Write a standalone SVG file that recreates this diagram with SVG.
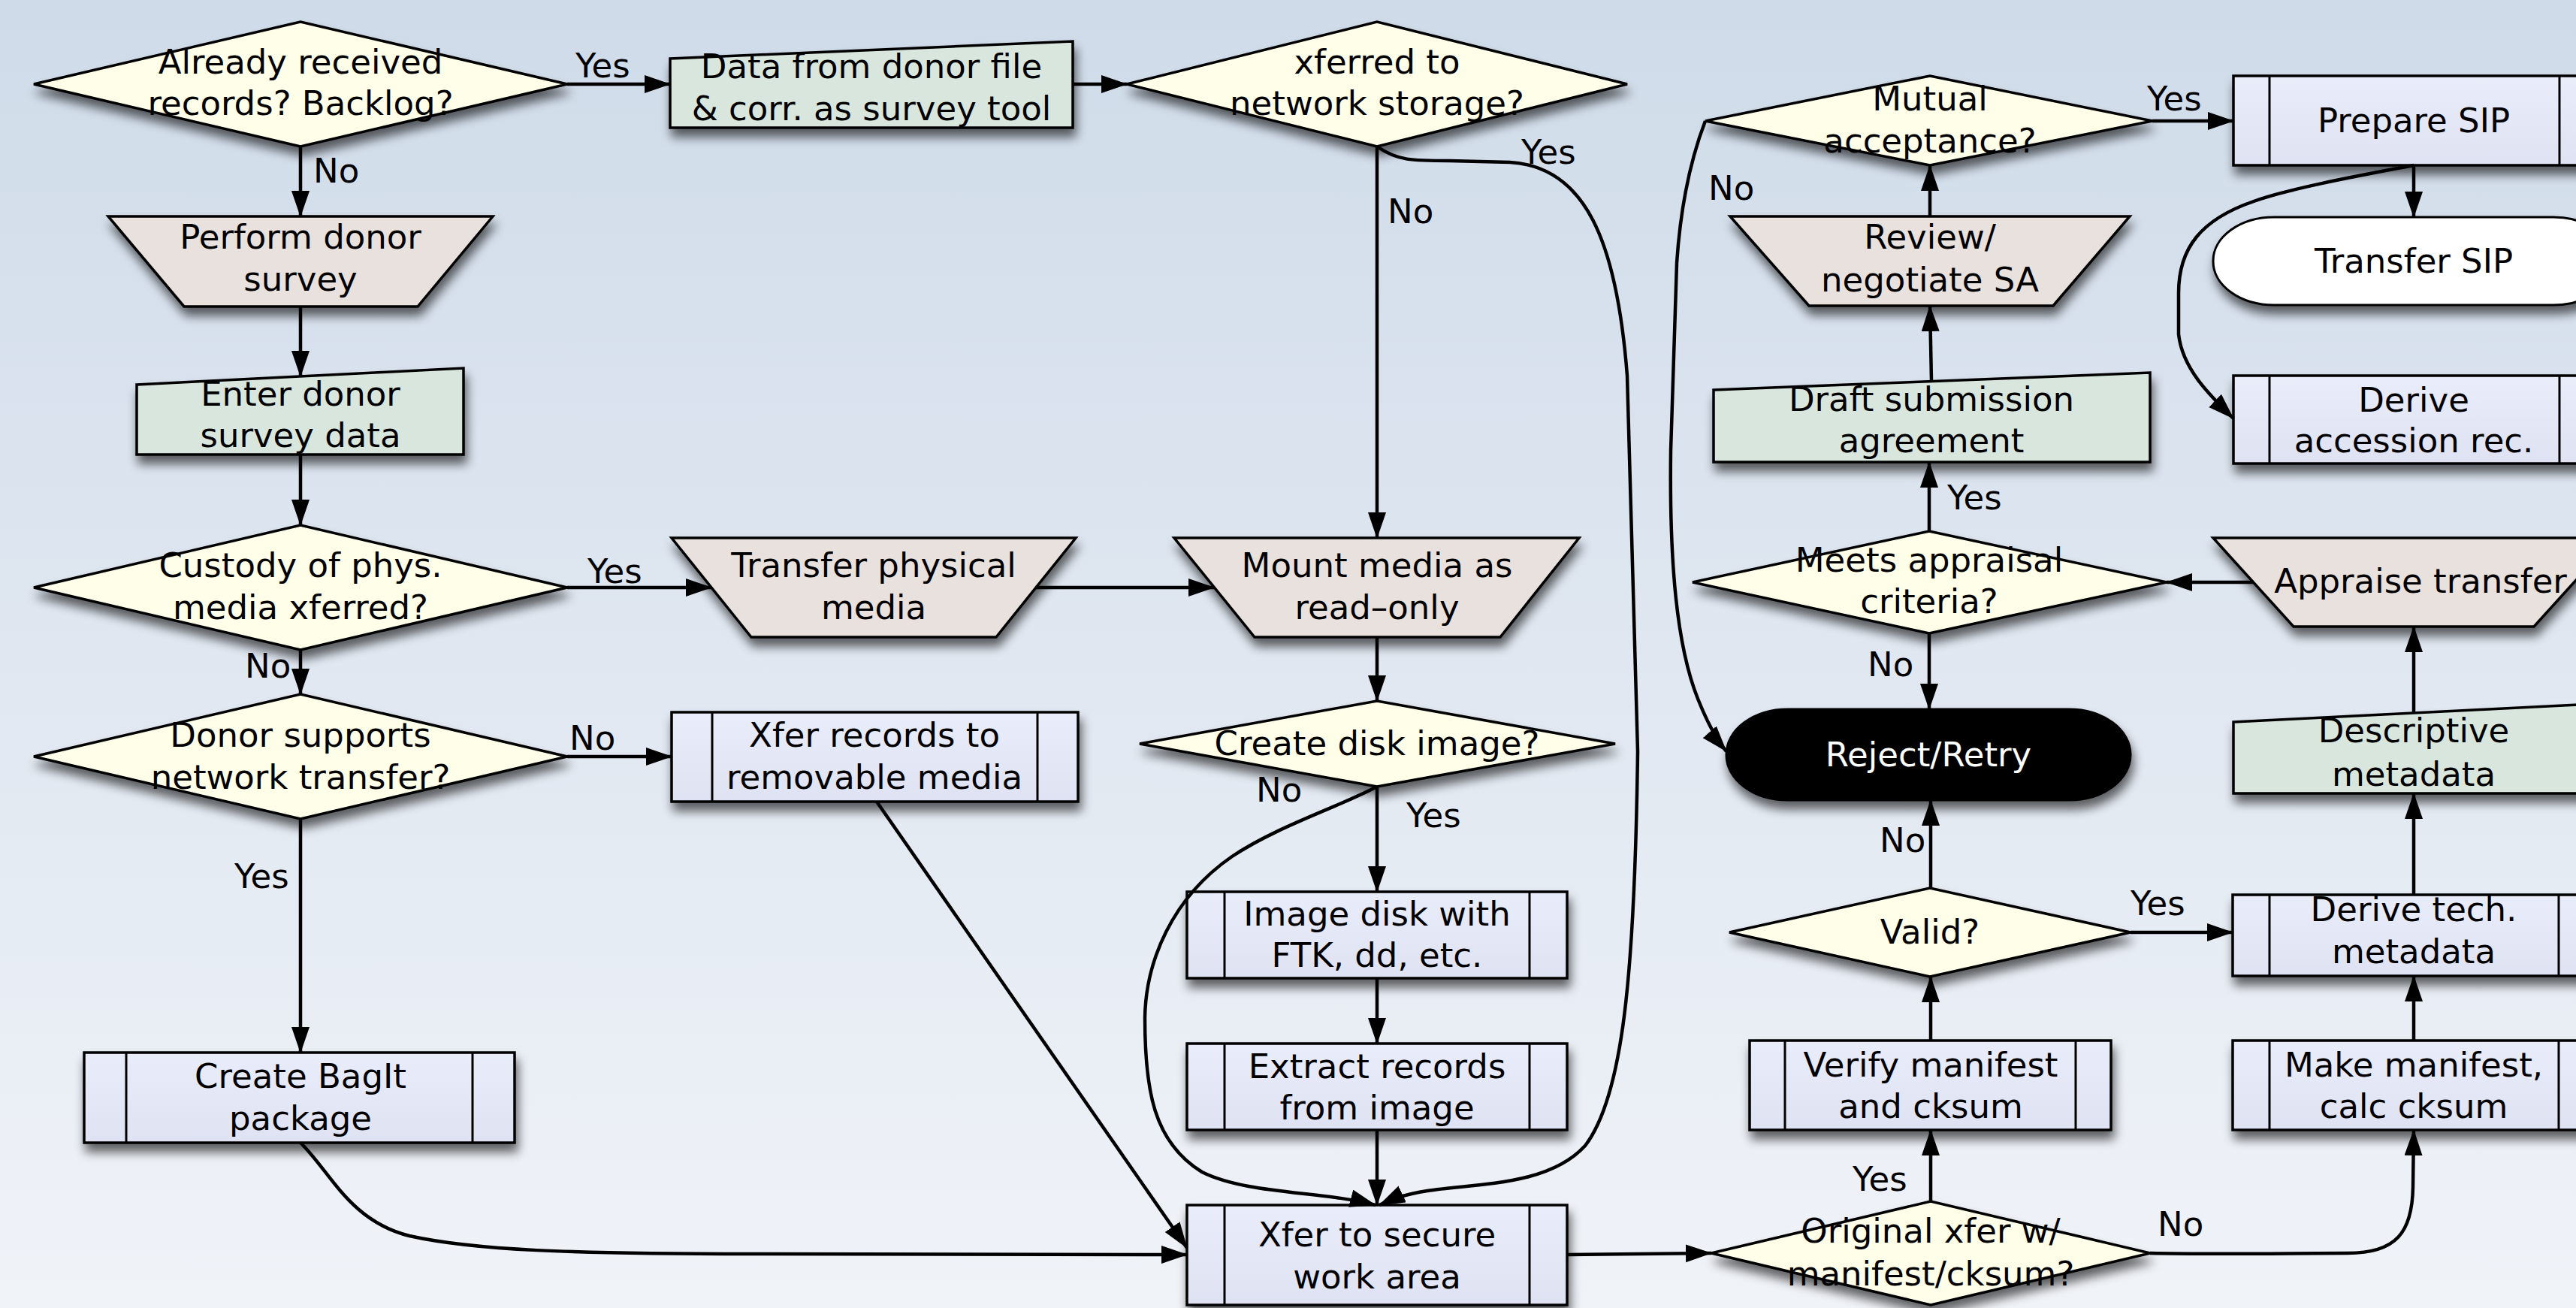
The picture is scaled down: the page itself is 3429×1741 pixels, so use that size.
<svg xmlns="http://www.w3.org/2000/svg" width="3429" height="1741" viewBox="0 0 3429 1741">
<style>
text{font-family:"DejaVu Sans","Liberation Sans",sans-serif;font-size:45px;fill:#000}
.c{text-anchor:middle}
.w{fill:#fff}
.sh{stroke:#000;stroke-width:3.5;stroke-linejoin:miter}
.dia{fill:#fefee9}
.trap{fill:#e8e1dd}
.man{fill:#d9e6de}
.sub{fill:url(#subg)}
.in{stroke:#000;stroke-width:3;fill:none}
.cn{fill:none;stroke:#000;stroke-width:4.5;marker-end:url(#ah)}
</style>
<defs>
<linearGradient id="bg" x1="0" y1="0" x2="0" y2="1">
<stop offset="0" stop-color="#cfdbe9"/>
<stop offset="1" stop-color="#f0f3f8"/>
</linearGradient>
<linearGradient id="subg" x1="0" y1="0" x2="0" y2="1">
<stop offset="0" stop-color="#e9ecf9"/>
<stop offset="1" stop-color="#dfe2f2"/>
</linearGradient>
<filter id="ds" x="-10%" y="-20%" width="125%" height="160%">
<feGaussianBlur in="SourceAlpha" stdDeviation="7"/>
<feOffset dx="3" dy="11"/>
<feComponentTransfer><feFuncA type="linear" slope="0.6"/></feComponentTransfer>
<feMerge><feMergeNode/><feMergeNode in="SourceGraphic"/></feMerge>
</filter>
<marker id="ah" markerWidth="36" markerHeight="26" refX="34" refY="12" orient="auto" markerUnits="userSpaceOnUse">
<path d="M0,0 L35,12 L0,24 Z" fill="#000"/>
</marker>
</defs>
<rect x="0" y="0" width="3429" height="1741" fill="url(#bg)"/>

<!-- Nodes -->
<g id="d-already-received">
<polygon class="sh dia" filter="url(#ds)" points="45,112 400,29 755,112 400,195"/>
<text class="c" x="400" y="98">Already received</text>
<text class="c" x="400" y="153">records? Backlog?</text>
</g>
<g id="m-data-from-donor">
<polygon class="sh man" filter="url(#ds)" points="892,78 1428,55 1428,170 892,170"/>
<text class="c" x="1160" y="104">Data from donor file</text>
<text class="c" x="1160" y="160">&amp; corr. as survey tool</text>
</g>
<g id="d-xferred-network">
<polygon class="sh dia" filter="url(#ds)" points="1500,112 1833,29 2166,112 1833,195"/>
<text class="c" x="1833" y="98">xferred to</text>
<text class="c" x="1833" y="153">network storage?</text>
</g>
<g id="t-perform-donor-survey">
<polygon class="sh trap" filter="url(#ds)" points="144,288 656,288 556,408 245,408"/>
<text class="c" x="400" y="331">Perform donor</text>
<text class="c" x="400" y="387">survey</text>
</g>
<g id="m-enter-donor-survey">
<polygon class="sh man" filter="url(#ds)" points="182,512 617,490 617,605 182,605"/>
<text class="c" x="400" y="540">Enter donor</text>
<text class="c" x="400" y="595">survey data</text>
</g>
<g id="d-custody">
<polygon class="sh dia" filter="url(#ds)" points="45,782 400,699 755,782 400,865"/>
<text class="c" x="400" y="768">Custody of phys.</text>
<text class="c" x="400" y="824">media xferred?</text>
</g>
<g id="t-transfer-physical">
<polygon class="sh trap" filter="url(#ds)" points="894,716 1432,716 1326,848 1000,848"/>
<text class="c" x="1163" y="768">Transfer physical</text>
<text class="c" x="1163" y="824">media</text>
</g>
<g id="t-mount-media">
<polygon class="sh trap" filter="url(#ds)" points="1563,716 2102,716 1997,848 1670,848"/>
<text class="c" x="1833" y="768">Mount media as</text>
<text class="c" x="1833" y="824">read–only</text>
</g>
<g id="d-donor-supports">
<polygon class="sh dia" filter="url(#ds)" points="45,1007 400,924 755,1007 400,1090"/>
<text class="c" x="400" y="994">Donor supports</text>
<text class="c" x="400" y="1050">network transfer?</text>
</g>
<g id="s-xfer-removable">
<rect class="sh sub" filter="url(#ds)" x="894" y="948" width="541" height="119"/>
<line class="in" x1="948" y1="948" x2="948" y2="1067"/>
<line class="in" x1="1381" y1="948" x2="1381" y2="1067"/>
<text class="c" x="1164" y="994">Xfer records to</text>
<text class="c" x="1164" y="1050">removable media</text>
</g>
<g id="d-create-disk-image">
<polygon class="sh dia" filter="url(#ds)" points="1517,990 1833,933 2150,990 1833,1047"/>
<text class="c" x="1833" y="1005">Create disk image?</text>
</g>
<g id="s-image-disk">
<rect class="sh sub" filter="url(#ds)" x="1580" y="1187" width="506" height="115"/>
<line class="in" x1="1630" y1="1187" x2="1630" y2="1302"/>
<line class="in" x1="2036" y1="1187" x2="2036" y2="1302"/>
<text class="c" x="1833" y="1232">Image disk with</text>
<text class="c" x="1833" y="1287">FTK, dd, etc.</text>
</g>
<g id="s-extract-records">
<rect class="sh sub" filter="url(#ds)" x="1580" y="1389" width="506" height="115"/>
<line class="in" x1="1630" y1="1389" x2="1630" y2="1504"/>
<line class="in" x1="2036" y1="1389" x2="2036" y2="1504"/>
<text class="c" x="1833" y="1435">Extract records</text>
<text class="c" x="1833" y="1490">from image</text>
</g>
<g id="s-xfer-secure">
<rect class="sh sub" filter="url(#ds)" x="1580" y="1604" width="506" height="133"/>
<line class="in" x1="1630" y1="1604" x2="1630" y2="1737"/>
<line class="in" x1="2036" y1="1604" x2="2036" y2="1737"/>
<text class="c" x="1833" y="1659">Xfer to secure</text>
<text class="c" x="1833" y="1715">work area</text>
</g>
<g id="s-create-bagit">
<rect class="sh sub" filter="url(#ds)" x="112" y="1401" width="573" height="120"/>
<line class="in" x1="168" y1="1401" x2="168" y2="1521"/>
<line class="in" x1="629" y1="1401" x2="629" y2="1521"/>
<text class="c" x="400" y="1448">Create BagIt</text>
<text class="c" x="400" y="1504">package</text>
</g>
<g id="d-original-xfer">
<polygon class="sh dia" filter="url(#ds)" points="2278,1668 2570,1599 2862,1668 2570,1737"/>
<text class="c" x="2570" y="1654">Original xfer w/</text>
<text class="c" x="2570" y="1711">manifest/cksum?</text>
</g>
<g id="s-verify-manifest">
<rect class="sh sub" filter="url(#ds)" x="2329" y="1385" width="481" height="119"/>
<line class="in" x1="2376" y1="1385" x2="2376" y2="1504"/>
<line class="in" x1="2763" y1="1385" x2="2763" y2="1504"/>
<text class="c" x="2570" y="1433">Verify manifest</text>
<text class="c" x="2570" y="1488">and cksum</text>
</g>
<g id="d-valid">
<polygon class="sh dia" filter="url(#ds)" points="2302,1241 2569,1182 2836,1241 2569,1300"/>
<text class="c" x="2569" y="1256">Valid?</text>
</g>
<g id="r-reject-retry">
<rect filter="url(#ds)" x="2298" y="944" width="538" height="121" rx="82" ry="60" fill="#000" stroke="#000" stroke-width="3"/>
<text class="c w" x="2567" y="1020">Reject/Retry</text>
</g>
<g id="d-meets-appraisal">
<polygon class="sh dia" filter="url(#ds)" points="2253,775 2568,707 2884,775 2568,843"/>
<text class="c" x="2568" y="761">Meets appraisal</text>
<text class="c" x="2568" y="816">criteria?</text>
</g>
<g id="t-appraise-transfer">
<polygon class="sh trap" filter="url(#ds)" points="2946,716 3480,716 3373,834 3053,834"/>
<text class="c" x="3222" y="789">Appraise transfer</text>
</g>
<g id="m-descriptive-metadata">
<polygon class="sh man" filter="url(#ds)" points="2973,961 3454,937 3454,1056 2973,1056"/>
<text class="c" x="3213" y="988">Descriptive</text>
<text class="c" x="3213" y="1046">metadata</text>
</g>
<g id="s-derive-tech">
<rect class="sh sub" filter="url(#ds)" x="2972" y="1191" width="482" height="108"/>
<line class="in" x1="3021" y1="1191" x2="3021" y2="1299"/>
<line class="in" x1="3406" y1="1191" x2="3406" y2="1299"/>
<text class="c" x="3213" y="1226">Derive tech.</text>
<text class="c" x="3213" y="1282">metadata</text>
</g>
<g id="s-make-manifest">
<rect class="sh sub" filter="url(#ds)" x="2972" y="1385" width="482" height="119"/>
<line class="in" x1="3021" y1="1385" x2="3021" y2="1504"/>
<line class="in" x1="3406" y1="1385" x2="3406" y2="1504"/>
<text class="c" x="3213" y="1433">Make manifest,</text>
<text class="c" x="3213" y="1488">calc cksum</text>
</g>
<g id="m-draft-submission">
<polygon class="sh man" filter="url(#ds)" points="2281,519 2862,496 2862,615 2281,615"/>
<text class="c" x="2571" y="547">Draft submission</text>
<text class="c" x="2571" y="602">agreement</text>
</g>
<g id="t-review-negotiate">
<polygon class="sh trap" filter="url(#ds)" points="2303,288 2835,288 2733,407 2408,407"/>
<text class="c" x="2569" y="331">Review/</text>
<text class="c" x="2569" y="388">negotiate SA</text>
</g>
<g id="d-mutual-acceptance">
<polygon class="sh dia" filter="url(#ds)" points="2270,161 2569,101 2865,161 2569,220"/>
<text class="c" x="2569" y="147">Mutual</text>
<text class="c" x="2569" y="203">acceptance?</text>
</g>
<g id="s-prepare-sip">
<rect class="sh sub" filter="url(#ds)" x="2973" y="101" width="481" height="119"/>
<line class="in" x1="3021" y1="101" x2="3021" y2="220"/>
<line class="in" x1="3407" y1="101" x2="3407" y2="220"/>
<text class="c" x="3213" y="176">Prepare SIP</text>
</g>
<g id="r-transfer-sip">
<rect filter="url(#ds)" x="2946" y="289" width="534" height="117" rx="81" ry="58" fill="#fff" stroke="#000" stroke-width="3"/>
<text class="c" x="3213" y="363">Transfer SIP</text>
</g>
<g id="s-derive-accession">
<rect class="sh sub" filter="url(#ds)" x="2973" y="500" width="481" height="117"/>
<line class="in" x1="3021" y1="500" x2="3021" y2="617"/>
<line class="in" x1="3407" y1="500" x2="3407" y2="617"/>
<text class="c" x="3213" y="548">Derive</text>
<text class="c" x="3213" y="602">accession rec.</text>
</g>

<!-- Connectors -->
<g id="connectors">
<path class="cn" d="M755,112 L892,112"/>
<path class="cn" d="M400,195 L400,288"/>
<path class="cn" d="M400,408 L400,501"/>
<path class="cn" d="M400,605 L400,699"/>
<path class="cn" d="M755,782 L947,782"/>
<path class="cn" d="M400,865 L400,924"/>
<path class="cn" d="M755,1007 L894,1007"/>
<path class="cn" d="M400,1090 L400,1401"/>
<path class="cn" d="M1167,1067 L1580,1661"/>
<path class="cn" d="M400,1521 C440,1560 465,1625 545,1645 C630,1664 760,1669 1000,1669 L1580,1670"/>
<path class="cn" d="M1378,782 L1616,782"/>
<path class="cn" d="M1428,112 L1500,112"/>
<path class="cn" d="M1833,195 L1833,716"/>
<path class="cn" d="M1833,195 C1860,214 1880,214 1930,214 L2010,216 C2110,222 2152,320 2166,500 L2180,1000 C2176,1300 2160,1460 2110,1525 C2060,1580 1960,1575 1900,1585 C1870,1590 1855,1595 1836,1604"/>
<path class="cn" d="M1833,848 L1833,933"/>
<path class="cn" d="M1833,1047 L1833,1187"/>
<path class="cn" d="M1833,1047 C1780,1075 1700,1100 1640,1140 C1560,1195 1525,1280 1524,1355 C1524,1450 1535,1520 1600,1560 C1660,1590 1760,1585 1831,1604"/>
<path class="cn" d="M1833,1302 L1833,1389"/>
<path class="cn" d="M1833,1504 L1833,1604"/>
<path class="cn" d="M2086,1670 L2278,1668"/>
<path class="cn" d="M2570,1599 L2570,1504"/>
<path class="cn" d="M2862,1668 C2950,1670 3050,1668 3125,1668 C3190,1668 3211,1640 3212,1580 L3213,1504"/>
<path class="cn" d="M2570,1385 L2570,1300"/>
<path class="cn" d="M2836,1241 L2972,1241"/>
<path class="cn" d="M2570,1182 L2570,1065"/>
<path class="cn" d="M2568,843 L2568,944"/>
<path class="cn" d="M2568,707 L2568,615"/>
<path class="cn" d="M3000,775 L2884,775"/>
<path class="cn" d="M3213,949 L3213,834"/>
<path class="cn" d="M3213,1191 L3213,1056"/>
<path class="cn" d="M3213,1385 L3213,1299"/>
<path class="cn" d="M2571,507 L2569,407"/>
<path class="cn" d="M2569,288 L2569,220"/>
<path class="cn" d="M2865,161 L2973,161"/>
<path class="cn" d="M2270,161 C2255,200 2238,260 2232,350 L2224,600 C2222,750 2232,860 2260,930 C2272,960 2285,985 2298,1000"/>
<path class="cn" d="M3213,220 L3213,289"/>
<path class="cn" d="M3213,220 C3150,232 3050,250 3000,268 C2930,292 2900,330 2900,390 L2900,445 C2905,490 2940,525 2973,557"/>
</g>

<g id="labels">
<text x="766" y="103">Yes</text>
<text x="417" y="243">No</text>
<text x="782" y="776">Yes</text>
<text x="326" y="902">No</text>
<text x="758" y="998">No</text>
<text x="312" y="1182">Yes</text>
<text x="1847" y="297">No</text>
<text x="2025" y="218">Yes</text>
<text x="1672" y="1067">No</text>
<text x="1872" y="1101">Yes</text>
<text x="2466" y="1585">Yes</text>
<text x="2872" y="1645">No</text>
<text x="2836" y="1218">Yes</text>
<text x="2502" y="1134">No</text>
<text x="2486" y="900">No</text>
<text x="2592" y="678">Yes</text>
<text x="2858" y="147">Yes</text>
<text x="2274" y="266">No</text>
</g>
</svg>
